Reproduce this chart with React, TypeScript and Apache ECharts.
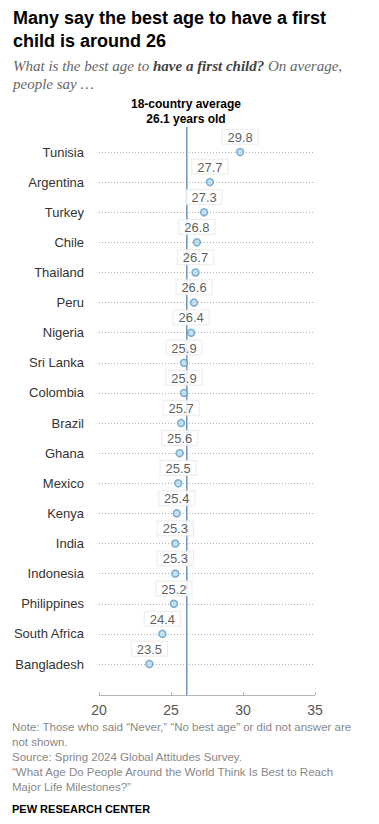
import React, { useEffect, useRef } from "react";
import * as echarts from "echarts";

const countries = [
  "Tunisia", "Argentina", "Turkey", "Chile", "Thailand", "Peru", "Nigeria",
  "Sri Lanka", "Colombia", "Brazil", "Ghana", "Mexico", "Kenya", "India",
  "Indonesia", "Philippines", "South Africa", "Bangladesh",
];
const values = [
  29.8, 27.7, 27.3, 26.8, 26.7, 26.6, 26.4, 25.9, 25.9, 25.7, 25.6, 25.5,
  25.4, 25.3, 25.3, 25.2, 24.4, 23.5,
];
const average = 26.1;
const xTicks = [20, 25, 30, 35];

const titleLines = ["Many say the best age to have a first", "child is around 26"];
const noteLines = [
  "Note: Those who said \u201cNever,\u201d \u201cNo best age\u201d or did not answer are",
  "not shown.",
  "Source: Spring 2024 Global Attitudes Survey.",
  "\u201cWhat Age Do People Around the World Think Is Best to Reach",
  "Major Life Milestones?\u201d",
];

const SANS = "'Liberation Sans', Arial, sans-serif";
const SERIF = "'Liberation Serif', Georgia, serif";

export default function App() {
  const ref = useRef<HTMLDivElement>(null);
  useEffect(() => {
    if (!ref.current) return;
    const chart = echarts.init(ref.current, null, { renderer: "svg" });
    const gridLeft = 99;
    const gridWidth = 216;
    chart.setOption({
      animation: false,
      backgroundColor: "#ffffff",
      grid: [
        { left: gridLeft, width: gridWidth, top: 152, height: 512 },
        { left: gridLeft, width: gridWidth, top: 127, height: 568 },
      ],
      xAxis: [
        {
          gridIndex: 0,
          type: "value",
          min: xTicks[0],
          max: xTicks[xTicks.length - 1],
          interval: 5,
          offset: 31,
          axisLine: { show: true, lineStyle: { color: "#b5b5b5", width: 1 } },
          axisTick: { show: true, inside: true, length: 3, lineStyle: { color: "#b5b5b5" } },
          axisLabel: { color: "#555", fontSize: 14, fontFamily: SANS, margin: 8 },
          splitLine: { show: false },
        },
        {
          gridIndex: 1,
          type: "value",
          min: xTicks[0],
          max: xTicks[xTicks.length - 1],
          show: false,
        },
      ],
      yAxis: [
        {
          gridIndex: 0,
          type: "category",
          data: countries,
          inverse: true,
          boundaryGap: false,
          axisLine: { show: false },
          axisTick: { show: false },
          axisLabel: { color: "#333", fontSize: 13, fontFamily: SANS, margin: 15 },
          splitLine: {
            show: true,
            lineStyle: { color: "#b0b0b0", type: [1, 2], width: 1 },
          },
        },
        { gridIndex: 1, type: "value", min: 0, max: 1, show: false },
      ],
      series: [
        {
          type: "line",
          xAxisIndex: 1,
          yAxisIndex: 1,
          data: [[average, 0], [average, 1]],
          symbol: "none",
          lineStyle: { color: "#4e7aa8", width: 1.2 },
          z: 1,
          silent: true,
        },
        {
          type: "scatter",
          xAxisIndex: 0,
          yAxisIndex: 0,
          data: values.map((v, i) => [v, countries[i]]),
          symbol: "circle",
          symbolSize: 7,
          itemStyle: { color: "#b9d8ec", borderColor: "#5f9cc8", borderWidth: 1.5 },
          label: {
            show: true,
            position: "top",
            distance: 4,
            formatter: (p: any) => p.value[0].toFixed(1),
            color: "#333",
            fontSize: 13,
            fontFamily: SANS,
            backgroundColor: "#ffffff",
            borderColor: "#e8e8e8",
            borderWidth: 1,
            padding: [1, 5, 0, 5],
          },
          z: 3,
        },
      ],
      graphic: [
        ...titleLines.map((t, i) => ({
          type: "text",
          left: 13,
          top: 9 + i * 23,
          style: { text: t, font: `bold 18px ${SANS}`, fill: "#000" },
        })),
        {
          type: "text",
          left: 13,
          top: 58,
          style: {
            text: "{i|What is the best age to }{b|have a first child?}{i| On average,}\n{i|people say \u2026}",
            rich: {
              i: { font: `italic 15px ${SERIF}`, fill: "#666", lineHeight: 18 },
              b: { font: `italic bold 15px ${SERIF}`, fill: "#444", lineHeight: 18 },
            },
          },
        },
        {
          type: "text",
          x: 186,
          y: 96,
          style: {
            text: "18-country average\n" + average.toFixed(1) + " years old",
            font: `bold 12px ${SANS}`,
            fill: "#000",
            align: "center",
            lineHeight: 15,
          },
        },
        ...noteLines.map((t, i) => ({
          type: "text",
          left: 12,
          top: 721 + i * 15,
          style: { text: t, font: `11.5px ${SANS}`, fill: "#888" },
        })),
        {
          type: "text",
          left: 12,
          top: 803,
          style: { text: "PEW RESEARCH CENTER", font: `bold 11px ${SANS}`, fill: "#000" },
        },
      ],
    });
    return () => chart.dispose();
  }, []);
  return (
    <div
      ref={ref}
      style={{ position: "fixed", left: 0, top: 0, width: 379, height: 824 }}
    />
  );
}
